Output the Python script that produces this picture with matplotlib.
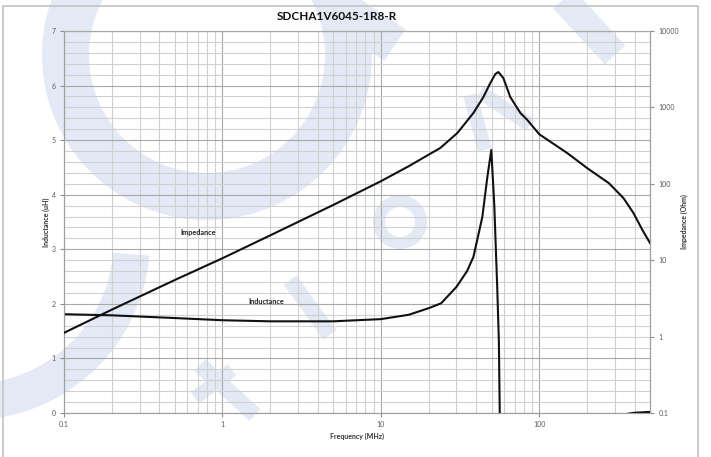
import numpy as np
import matplotlib
matplotlib.use("Agg")
import matplotlib.pyplot as plt
from matplotlib.patches import Wedge
from matplotlib.ticker import FixedLocator, NullFormatter, LogLocator

plt.rcParams['font.family'] = ['Lato', 'DejaVu Sans']

# data
freq_L = [0.1, 0.2, 0.5, 1, 2, 5, 10, 15, 20, 24, 30, 35, 38.4, 43.7, 47, 49.8, 52, 54.3, 55.6, 56.3,
          60, 100, 200, 300, 400, 500]
inductance = [1.81, 1.79, 1.74, 1.70, 1.68, 1.68, 1.72, 1.80, 1.92, 2.01, 2.31, 2.60, 2.86, 3.59, 4.32, 4.82,
              3.81, 2.29, 1.30, 0.0, -4.0, -1.0, -0.3, -0.05, 0.005, 0.02]

freq_Z = [0.1, 0.2, 0.5, 1, 2, 5, 10, 15, 20, 23.7, 30.4, 38.4, 44.4, 49.1, 52.8, 55.2, 59.3, 65.6, 76,
          84.1, 100, 150, 201, 275, 340, 393, 448, 500]
impedance = [1.12, 2.25, 5.5, 10.6, 21.1, 52.8, 108, 170, 240, 294, 462, 845, 1368, 2085, 2735, 2904, 2426,
             1368, 845, 684, 445, 253, 160, 102, 65, 41.5, 24.8, 16.8]

x_ticks = [0.1, 1, 10, 100]
x_labels = ["0.1", "1", "10", "100"]
l_ticks = [0, 1, 2, 3, 4, 5, 6, 7]
z_ticks = [0.1, 1, 10, 100, 1000, 10000]
z_labels = ["0.1", "1", "10", "100", "1000", "10000"]

W, H = 711, 457
fig = plt.figure(figsize=(W / 100, H / 100), dpi=100)

# faint watermark behind the chart
wm = fig.add_axes([0, 0, 1, 1], zorder=-1)
wm.set_xlim(0, W)
wm.set_ylim(H, 0)
wm.axis("off")
wc = "#e3eaf6"
wm.add_patch(Wedge((207, 55), 165, 0, 360, width=47, color=wc, lw=0))
wm.add_patch(Wedge((-30, 240), 180, 5, 90, width=36, color=wc, lw=0))
wm.add_patch(Wedge((400, 222), 27, 0, 360, width=12, color=wc, lw=0))
strokes = [((320, -5), (395, 45), 38), ((560, -5), (615, 55), 28),
           ((470, 95), (485, 150), 14), ((480, 92), (530, 125), 14),
           ((290, 280), (330, 335), 16), ((200, 365), (255, 415), 16), ((195, 398), (232, 370), 14)]
for (x1, y1), (x2, y2), w in strokes:
    wm.plot([x1, x2], [y1, y2], color=wc, lw=w * 0.72, solid_capstyle="butt")

# outer frame
wm.plot([3, 3, 698, 698], [470, 6, 6, 470], color="#c6c6c6", lw=1.3)

ax = fig.add_axes([64 / W, 1 - 413 / H, (650 - 64) / W, (413 - 31) / H])
ax.patch.set_visible(False)
ax.set_xscale("log")
ax.set_xlim(0.1, 500)
ax.set_ylim(0, 7)

ax2 = ax.twinx()
ax2.set_yscale("log")
ax2.set_ylim(0.1, 10000)

grid_major = "#a8a8a8"
grid_minor = "#d0d0d0"
ax.set_xticks(x_ticks)
ax.set_xticklabels(x_labels)
ax.xaxis.set_minor_locator(LogLocator(base=10, subs=np.arange(2, 10)))
ax.xaxis.set_minor_formatter(NullFormatter())
ax.set_yticks(l_ticks)
ax.yaxis.set_minor_locator(FixedLocator(np.arange(0, 7.01, 0.2)))
ax.grid(True, which="minor", color=grid_minor, lw=0.8)
ax.grid(True, which="major", color=grid_major, lw=0.8)
ax.tick_params(which="minor", length=0)
ax.tick_params(which="major", length=3, color="#8c8c8c", labelsize=5, labelcolor="#595959", pad=3)

ax2.set_yticks(z_ticks)
ax2.set_yticklabels(z_labels)
ax2.yaxis.set_minor_locator(FixedLocator([]))
ax2.tick_params(which="major", length=3, color="#8c8c8c", labelsize=5, labelcolor="#595959", pad=3)

for a in (ax, ax2):
    for s in a.spines.values():
        s.set_color("#a0a0a0")
        s.set_linewidth(0.8)
    a.spines["top"].set_color(grid_major)

ax.plot(freq_L, inductance, color="#111111", lw=1.5, zorder=3)
ax2.plot(freq_Z, impedance, color="#111111", lw=1.5, zorder=3)

ax.set_xlabel("Frequency (MHz)", fontsize=5, fontweight="bold", color="#333333", labelpad=3)
ax.set_ylabel("Inductance (uH)", fontsize=5, fontweight="bold", color="#333333", labelpad=1)
ax2.set_ylabel("Impedance (Ohm)", fontsize=5, fontweight="bold", color="#333333", labelpad=1)

fig.text(337 / W, 1 - 16 / H, "SDCHA1V6045-1R8-R", fontsize=8.5, fontweight="bold",
         ha="center", va="center", color="#111111")
fig.text(198 / W, 1 - 232 / H, "Impedance", fontsize=5.2, fontweight="bold",
         ha="center", va="center", color="#222222")
fig.text(266 / W, 1 - 301 / H, "Inductance", fontsize=5.2, fontweight="bold",
         ha="center", va="center", color="#222222")

fig.savefig("out.png", dpi=100)
